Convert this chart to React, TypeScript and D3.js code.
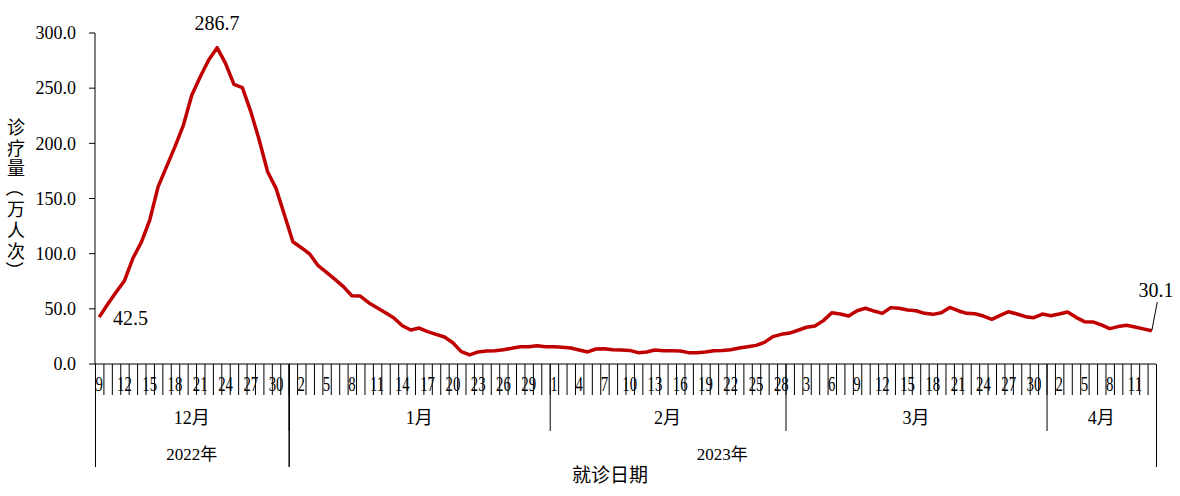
import React from "react";
import * as d3 from "d3";

// ---- data (诊疗量, 万人次), daily from 2022-12-09 to 2023-04-13 ----
const decValues = [42.5, 54.1, 65.0, 75.5, 95.8, 110.3, 130.5, 160.7, 178.9, 197.0, 216.6, 243.8, 260.4, 275.5, 286.7, 272.5, 253.5, 250.5, 228.8, 203.0, 174.3, 159.2, 135.0];
const janValues = [110.8, 105.4, 99.7, 89.1, 83.1, 76.7, 70.1, 61.9, 61.6, 55.6, 51.0, 46.5, 41.7, 34.7, 30.8, 32.6, 29.3, 26.9, 24.5, 19.3, 11.2, 8.2, 10.9, 11.8, 12.1, 13.0, 14.2, 15.7, 15.7, 16.6, 15.7];
const febValues = [15.6, 15.1, 14.5, 12.7, 10.9, 13.6, 13.9, 12.9, 12.7, 12.3, 10.3, 10.9, 12.7, 12.1, 12.1, 11.7, 10.3, 10.3, 10.9, 12.1, 12.3, 12.9, 14.5, 15.7, 16.9, 19.6, 24.8, 26.9];
const marValues = [28.0, 30.6, 33.3, 34.4, 39.3, 46.5, 45.3, 43.5, 48.3, 50.5, 48.0, 45.9, 51.1, 50.5, 48.9, 48.3, 45.9, 45.0, 46.5, 51.3, 48.3, 45.9, 45.6, 43.5, 40.5, 44.1, 47.4, 45.3, 42.9, 42.0, 45.3];
const aprValues = [43.8, 45.3, 47.1, 42.3, 38.4, 38.1, 35.4, 32.1, 33.9, 35.1, 33.6, 31.8, 30.1];

const monthNames = ["12月", "1月", "2月", "3月", "4月"];
const monthFirstDay = [9, 1, 1, 1, 1];
const monthYear = ["2022年", "2023年", "2023年", "2023年", "2023年"];
const monthSeries = [decValues, janValues, febValues, marValues, aprValues];
const yTicks = [0, 50, 100, 150, 200, 250, 300];
const yTitle = "诊疗量（万人次）";
const xTitle = "就诊日期";

type Pt = { key: string; day: number; month: number; value: number };
const points: Pt[] = [];
monthSeries.forEach((arr, m) => {
  arr.forEach((v, k) => {
    points.push({ key: `${m}-${k}`, day: monthFirstDay[m] + k, month: m, value: v });
  });
});

const W = 1180;
const H = 496;
const LEFT = 95;
const RIGHT = 1156;
const TOP = 33;
const BOTTOM = 364;
const FONT = '"Times New Roman", "Liberation Serif", "Noto Sans CJK SC", serif';
const CJK = '"Noto Sans CJK SC", "Liberation Serif", serif';
const RED = "#C00000";

export default function App() {
  const x = d3.scaleBand<string>().domain(points.map((p) => p.key)).range([LEFT, RIGHT]).padding(0);
  const y = d3.scaleLinear().domain([0, 300]).range([BOTTOM, TOP]);
  const bw = x.bandwidth();
  const cx = (p: Pt) => (x(p.key) as number) + bw / 2;

  const line = d3
    .line<Pt>()
    .x((p) => cx(p))
    .y((p) => y(p.value));

  const spans: { m: number; start: number; end: number }[] = [];
  monthSeries.forEach((arr, m) => {
    const first = points.find((p) => p.month === m)!;
    const start = x(first.key) as number;
    spans.push({ m, start, end: start + arr.length * bw });
  });
  const years: { name: string; start: number; end: number }[] = [];
  spans.forEach((s) => {
    const name = monthYear[s.m];
    const last = years[years.length - 1];
    if (last && last.name === name) last.end = s.end;
    else years.push({ name, start: s.start, end: s.end });
  });

  const first = points[0];
  const last = points[points.length - 1];
  const peak = points.reduce((a, b) => (b.value > a.value ? b : a));
  const titleChars = Array.from(yTitle);

  return (
    <svg
      width={W}
      height={H}
      style={{ position: "absolute", left: 0, top: 0, background: "#fff" }}
      fontFamily={FONT}
    >
      <rect x={0} y={0} width={W} height={H} fill="#fff" />
      {/* y axis */}
      <line x1={LEFT} x2={LEFT} y1={TOP} y2={BOTTOM} stroke="#000" strokeWidth={1} />
      {yTicks.map((t) => (
        <g key={t}>
          <line x1={LEFT - 6} x2={LEFT} y1={y(t)} y2={y(t)} stroke="#000" />
          <text x={76} y={y(t)} dy="0.35em" textAnchor="end" fontSize={18}>
            {t.toFixed(1)}
          </text>
        </g>
      ))}
      {/* x axis */}
      <line x1={LEFT} x2={RIGHT} y1={BOTTOM} y2={BOTTOM} stroke="#000" />
      {points.map((p) => (
        <line
          key={"t" + p.key}
          x1={(x(p.key) as number) + 0.5}
          x2={(x(p.key) as number) + 0.5}
          y1={BOTTOM}
          y2={395}
          stroke="#000"
          strokeWidth={1}
        />
      ))}
      {points.map((p, i) =>
        i % 3 === 0 ? (
          <text
            key={"l" + p.key}
            transform={`translate(${cx(p)},391) scale(0.74,1)`}
            textAnchor="middle"
            fontSize={20}
          >
            {p.day}
          </text>
        ) : null
      )}
      {/* month boundaries and labels */}
      {spans.map((s) => (
        <g key={"m" + s.m}>
          <line x1={s.start + 0.5} x2={s.start + 0.5} y1={BOTTOM} y2={431} stroke="#000" />
          <text x={(s.start + s.end) / 2} y={424} textAnchor="middle" fontSize={18}>
            {monthNames[s.m]}
          </text>
        </g>
      ))}
      {years.map((yr) => (
        <g key={yr.name}>
          <line x1={yr.start + 0.5} x2={yr.start + 0.5} y1={BOTTOM} y2={467} stroke="#000" />
          <line x1={yr.end + 0.5} x2={yr.end + 0.5} y1={BOTTOM} y2={467} stroke="#000" />
          <text x={(yr.start + yr.end) / 2} y={460} textAnchor="middle" fontSize={17}>
            {yr.name}
          </text>
        </g>
      ))}
      {/* titles */}
      <text x={610} y={482} textAnchor="middle" fontSize={19} fontFamily={CJK}>
        {xTitle}
      </text>
      {titleChars.map((ch, i) => {
        const isParen = ch === "（" || ch === "）";
        const cy = 126 + i * 20.6;
        return (
          <text
            key={"yt" + i}
            transform={`translate(16,${cy})${isParen ? " rotate(90)" : ""}`}
            textAnchor="middle"
            dominantBaseline="central"
            fontSize={18}
            fontFamily={CJK}
          >
            {ch}
          </text>
        );
      })}
      {/* line */}
      <path d={line(points) || ""} fill="none" stroke={RED} strokeWidth={3.5} strokeLinejoin="round" />
      {/* data labels */}
      <text x={cx(peak)} y={30} textAnchor="middle" fontSize={20}>
        {peak.value.toFixed(1)}
      </text>
      <text x={113} y={325} textAnchor="start" fontSize={20}>
        {first.value.toFixed(1)}
      </text>
      <line x1={cx(last)} y1={y(last.value)} x2={cx(last) + 5.5} y2={302} stroke="#000" />
      <text x={1156} y={297} textAnchor="middle" fontSize={20}>
        {last.value.toFixed(1)}
      </text>
    </svg>
  );
}
